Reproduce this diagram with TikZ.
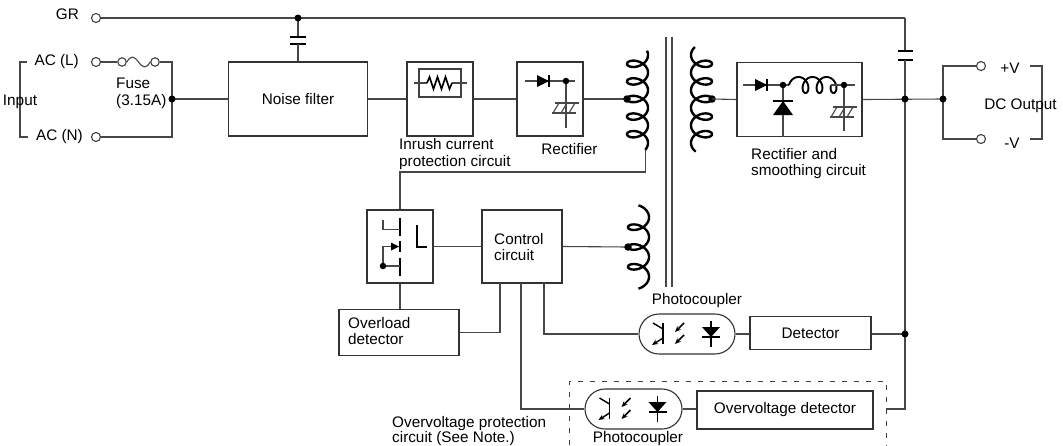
\documentclass[tikz,border=0pt]{standalone}
\usepackage{fontspec}
\setmainfont{Liberation Sans}
\usetikzlibrary{arrows.meta,shapes.misc}
\newcommand\vcoil[6]{\draw[coilst] plot[domain=#4:#5,samples=360] ({#1-(#3)*10.5*cos(\x r)},{#2+#6*\x-7*sin(\x r)});}
\newcommand\ecap[2]{%
  \draw[wire] ({#1-11},#2) -- ({#1+13},#2);
  \draw[wire] ({#1-14},{#2+10}) -- ({#1+10},{#2+10});
  \foreach \k in {0,1,2} \draw[wire] ({#1-13+8*\k},{#2+10}) -- ({#1-7+8*\k},#2);
}
\newcommand\pcinner{%
  \draw[sym] (-24,-11) -- (-24,10);
  \draw[black,line width=1.4pt] (-34,-11) -- (-24,-5);
  \draw[black,line width=1.4pt,-{Stealth[length=6pt,width=5pt]}] (-24,4) -- (-35,11);
  \draw[black,line width=1.5pt,-{Stealth[length=6pt,width=5pt]}] (-3,-11) -- (-12,-2);
  \draw[black,line width=1.5pt,-{Stealth[length=6pt,width=5pt]}] (-3,1) -- (-12,10);
  \draw[black,line width=1.3pt] (24,-13) -- (24,13);
  \fill (15,-7) -- (33,-7) -- (24,3) -- cycle;
  \draw[sym] (15,3) -- (33,3);
}
\begin{document}
\begin{tikzpicture}[x=1pt,y=-1pt,
  wire/.style={draw=black!72,line width=1.1pt},
  box/.style={draw=black!80,line width=1.1pt,inner sep=0pt,font=\fontsize{15.3}{16.5}\selectfont},
  lbl/.style={font=\fontsize{15.3}{16.5}\selectfont,inner sep=0pt,text=black},
  sym/.style={draw=black,line width=1.8pt},
  plate/.style={draw=black,line width=2.6pt},
  coilst/.style={draw=black,line width=2.4pt},
  term/.style={circle,draw=black!75,line width=1.1pt,fill=white,minimum size=9pt,inner sep=0pt},
  jdot/.style={circle,fill=black,minimum size=7pt,inner sep=0pt},
]
\useasboundingbox (0,0) rectangle (1063,445);
\fill[white] (0,0) rectangle (1063,445);

% ---------- GR line ----------
\node[lbl,anchor=east] (grl) at (79,14) {GR};
\node[term] (grt) at (96,18) {};
\coordinate (grj) at (298,18);
\coordinate (grr) at (905,18);
\draw[wire] (grt) -- (grr);
\coordinate (c1a) at (298,37);
\coordinate (c1b) at (298,44);
\draw[wire] (grj) -- (c1a);
\draw[plate] (290,37) -- (306,37);
\draw[plate] (290,44) -- (306,44);
\node[jdot] at (grj) {};

% ---------- Input ----------
\node[lbl,anchor=east] at (79,62) {AC (L)};
\node[lbl,anchor=east] at (83,137) {AC (N)};
\node[term] (acl) at (96,62) {};
\node[term] (acn) at (96,137) {};
\draw[wire] (27,62) -- (20,62) -- (20,137) -- (28,137);
\node[lbl] at (20,102) {Input};
\node[term,minimum size=8.5pt] (f1) at (122,62) {};
\node[term,minimum size=8.5pt] (f2) at (155,62) {};
\draw[wire] (acl) -- (f1);
\draw[wire] (f1.east) .. controls (131,55) and (134,56) .. (138.5,62) .. controls (143,68) and (146,69) .. (f2.west);
\coordinate (ftop) at (172,62);
\coordinate (fbot) at (172,137);
\coordinate (fj) at (172,99);
\draw[wire] (f2) -- (ftop) -- (fbot) -- (acn);
\node[lbl,anchor=west,align=left] at (116,93.5) {Fuse\\(3.15A)};

% ---------- primary boxes ----------
\node[box,minimum width=139,minimum height=74] (nf) at (298,99) {Noise filter};
\draw[wire] (c1b) -- (nf.north);
\draw[wire] (fj) -- (nf.west);
\node[jdot] at (fj) {};

\node[box,minimum width=66,minimum height=74] (ir) at (440,99) {};
\draw[draw=black!75,line width=1.3pt] (419,69) rectangle (461,97);
\draw[wire] (414,83) -- (427,83);
\draw[wire] (452,83) -- (467,83);
\draw[sym,line width=1.6pt,line join=miter] (427,83) -- (429.5,77) -- (433.5,89) -- (437.5,77) -- (441.5,89) -- (445.5,77) -- (449.5,89) -- (452,83);
\node[lbl,anchor=west,align=left] at (399,154) {Inrush current\\protection circuit};

\node[box,minimum width=66,minimum height=74] (rc) at (550,99) {};
\draw[wire] (525,81) -- (575,81);
\fill (537,75) -- (537,87) -- (549,81) -- cycle;
\draw[sym] (549,75) -- (549,87);
\draw[wire] (566,81) -- (566,128);
\ecap{566}{103}
\node[jdot,minimum size=6.5pt] at (566,81) {};
\node[lbl] at (569.5,149) {Rectifier};

\draw[wire] (nf.east) -- (ir.west);
\draw[wire] (ir.east) -- (rc.west);

% ---------- transformer ----------
\coordinate (ptap) at (627,99);
\coordinate (pbot) at (645.2,149.9);
\coordinate (pl1) at (645.2,172);
\vcoil{637.5}{99}{1}{-16.158}{16.458}{2.8}
\draw[wire] (rc.east) -- (ptap);
\node[jdot,minimum size=7.5pt] at (ptap) {};
\draw[wire] (666,37) -- (666,287);
\draw[wire] (672,37) -- (672,287);
\coordinate (stap) at (712,99);
\vcoil{701.5}{99}{-1}{-16.6}{16.7}{2.8}
\node[jdot,minimum size=7.5pt] at (stap) {};

% ---------- rectifier and smoothing ----------
\node[box,minimum width=125,minimum height=74] (rs) at (799.5,99.5) {};
\draw[wire] (stap) -- (rs.west);
\draw[wire] (743,85) -- (783,85);
\fill (755,79) -- (755,91) -- (767,85) -- cycle;
\draw[sym] (767,79) -- (767,91);
\draw[wire] (783,85) -- (783,136.5);
\fill (773,115) -- (793,115) -- (783,101) -- cycle;
\draw[sym] (773,101) -- (793,101);
\draw[wire] (783,85) -- (789,85);
\draw[black,line width=1.9pt] plot[domain=-1.5708:17.279,samples=200] ({798.5+2.23*\x+6*sin(\x r)},{85-8*cos(\x r)});
\draw[wire] (831,85) -- (855,85);
\draw[wire] (844,85) -- (844,131);
\ecap{844}{107}
\node[jdot,minimum size=6.5pt] at (783,85) {};
\node[jdot,minimum size=6.5pt] at (844,85) {};
\node[lbl,anchor=west,align=left] at (751,163.5) {Rectifier and\\smoothing circuit};

% ---------- output side ----------
\coordinate (dcj) at (905,99);
\coordinate (dco) at (943,99);
\coordinate (dj2) at (905,334);
\coordinate (ovr) at (886,409);
\draw[wire] (grr) -- (905,51);
\draw[plate] (898,51) -- (913,51);
\draw[plate] (898,60) -- (913,60);
\draw[wire] (905,60) -- (905,409) -- (ovr);
\draw[wire] (rs.east) -- (dco);
\node[term] (vp) at (981,66) {};
\node[term] (vm) at (981,139) {};
\draw[wire] (dco) -- (943,66) -- (vp);
\draw[wire] (dco) -- (943,139) -- (vm);
\node[jdot] at (dcj) {};
\node[jdot] at (dco) {};
\node[lbl] at (1010,68) {+V};
\node[lbl] at (1012,143) {-V};
\draw[wire] (1030,66) -- (1042,66) -- (1042,139) -- (1030,139);
\node[lbl] at (1020.5,106) {DC Output};

% ---------- control side ----------
\node[box,minimum width=66,minimum height=73] (mf) at (400,246.5) {};
\draw[wire] (pbot) -- (pl1) -| (mf.north);
\draw[sym] (400,218) -- (400,236);
\draw[sym] (400,241) -- (400,252);
\draw[sym] (400,258) -- (400,276);
\draw[wire,line width=1.3pt] (383,220) -- (383,229.5) -- (400,229.5);
\draw[wire,line width=1.3pt] (383,266) -- (383,246.5) -- (392,246.5);
\fill (391,242.5) -- (399,246.5) -- (391,250.5) -- cycle;
\draw[wire,line width=1.3pt] (383,266) -- (400,266);
\node[jdot,minimum size=6.5pt] at (383,266) {};
\draw[sym] (417,225) -- (417,247) -- (427,247);

\node[box,minimum width=80,minimum height=73] (cc) at (522,246.5) {};
\node[lbl,anchor=west,align=left] at (494,247) {Control\\circuit};
\draw[wire] (mf.east) -- (cc.west);
\coordinate (ttap) at (628,247);
\vcoil{638.5}{247}{1}{-11.0}{11.0}{3.15}
\draw[wire] (cc.east) -- (ttap);
\node[jdot,minimum size=7.5pt] at (ttap) {};

\node[box,minimum width=120,minimum height=46] (ol) at (399,332.5) {};
\node[lbl,anchor=west,align=left] at (348,331) {Overload\\detector};
\draw[wire] (mf.south) -- (mf.south |- ol.north);
\coordinate (cc1) at (500,283);
\coordinate (cc2) at (521,283);
\coordinate (cc3) at (544,283);
\draw[wire] (ol.east) -| (cc1);

% photocoupler 1 and detector
\node[draw=black!80,line width=1.1pt,rounded rectangle,minimum width=96,minimum height=40,inner sep=0pt] (pc1) at (687,334) {};
\begin{scope}[shift={(pc1.center)}]\pcinner\end{scope}
\node[lbl] at (697,301) {Photocoupler};
\node[box,minimum width=121,minimum height=33] (det) at (810.5,333) {Detector};
\draw[wire] (cc3) |- (pc1.west);
\draw[wire] (pc1.east) -- (pc1.east -| det.west);
\draw[wire] (det.east |- dj2) -- (dj2);
\node[jdot] at (dj2) {};

% overvoltage protection
\draw[draw=black!75,line width=1pt,dash pattern=on 5pt off 7pt] (569.5,445) -- (569.5,381) -- (886,381) -- (886,445);
\node[draw=black!80,line width=1.1pt,rounded rectangle,minimum width=97,minimum height=40,inner sep=0pt] (pc2) at (633.5,409) {};
\begin{scope}[shift={(pc2.center)}]\pcinner\end{scope}
\node[box,minimum width=176,minimum height=38] (ov) at (785,410) {Overvoltage detector};
\draw[wire] (cc2) |- (pc2.west);
\draw[wire] (pc2.east) -- (pc2.east -| ov.west);
\node[lbl] at (638,438.5) {Photocoupler};
\node[lbl,anchor=west,align=left,font=\fontsize{15.3}{14.5}\selectfont] at (392,431) {Overvoltage protection\\circuit (See Note.)};
\end{tikzpicture}
\end{document}
